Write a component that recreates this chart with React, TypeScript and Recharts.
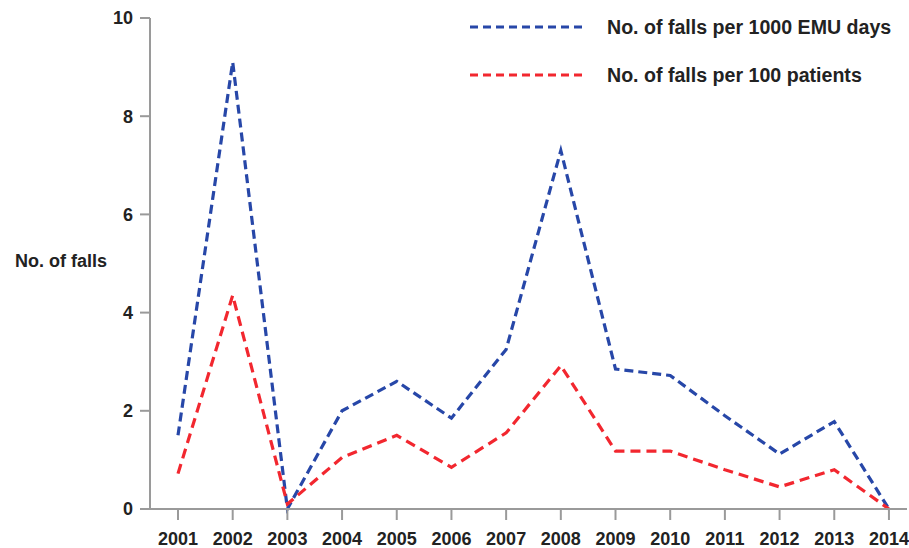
import { LineChart, Line, XAxis, YAxis } from "recharts";

const years = [2001, 2002, 2003, 2004, 2005, 2006, 2007, 2008, 2009, 2010, 2011, 2012, 2013, 2014];
const perEmuDays = [1.5, 9.1, 0, 2.0, 2.6, 1.85, 3.25, 7.3, 2.85, 2.72, 1.9, 1.12, 1.78, 0];
const perPatients = [0.72, 4.35, 0.1, 1.05, 1.5, 0.85, 1.55, 2.92, 1.18, 1.18, 0.8, 0.45, 0.8, 0];
const yTicks = [0, 2, 4, 6, 8, 10];

const BLUE = "#2747a8";
const RED = "#f2272f";
const FONT = "'Liberation Sans', Arial, sans-serif";

const data = years.map((year, i) => ({ year, emu: perEmuDays[i], patients: perPatients[i] }));

const legendItems = [
  { label: "No. of falls per 1000 EMU days", color: BLUE },
  { label: "No. of falls per 100 patients", color: RED },
];

// legend sits over the top-right of the plot, so it lives outside the chart layout
function FallsLegend() {
  return (
    <div
      style={{
        position: "absolute",
        left: 470,
        top: 3,
        fontFamily: FONT,
        fontWeight: "bold",
        fontSize: 19.6,
        color: "#222",
      }}
    >
      {legendItems.map((it) => (
        <div key={it.label} style={{ display: "flex", alignItems: "center", height: 48, whiteSpace: "nowrap" }}>
          <svg width={112} height={10} style={{ marginRight: 25 }}>
            <line x1={0} y1={5} x2={112} y2={5} stroke={it.color} strokeWidth={3.2} strokeDasharray="8 5" />
          </svg>
          <span>{it.label}</span>
        </div>
      ))}
    </div>
  );
}

export default function App() {
  return (
    <div style={{ position: "absolute", left: 0, top: 0, width: 909, height: 548, background: "#fff" }}>
      <LineChart width={909} height={548} data={data} margin={{ top: 18, right: 2, bottom: 9, left: 0 }}>
        <XAxis
          dataKey="year"
          type="number"
          domain={[2000.488, 2014.33]}
          ticks={years}
          allowDataOverflow
          height={30}
          stroke="#9a9a9a"
          strokeWidth={2}
          tickSize={11}
          tickMargin={12}
          tick={{ fill: "#222", fontSize: 18, fontWeight: "bold", fontFamily: FONT }}
        />
        <YAxis
          domain={[0, 10]}
          ticks={yTicks}
          width={150}
          stroke="#9a9a9a"
          strokeWidth={2}
          tickSize={10}
          tickMargin={7}
          tick={{ fill: "#222", fontSize: 18, fontWeight: "bold", fontFamily: FONT }}
          label={{
            value: "No. of falls",
            position: "insideLeft",
            offset: 15,
            dy: -3,
            style: { fill: "#222", fontSize: 18, fontWeight: "bold", fontFamily: FONT },
          }}
        />
        <Line
          dataKey="emu"
          stroke={BLUE}
          strokeWidth={3.2}
          strokeDasharray="9 5"
          dot={false}
          isAnimationActive={false}
        />
        <Line
          dataKey="patients"
          stroke={RED}
          strokeWidth={3.2}
          strokeDasharray="10 6"
          dot={false}
          isAnimationActive={false}
        />
      </LineChart>
      <FallsLegend />
    </div>
  );
}
